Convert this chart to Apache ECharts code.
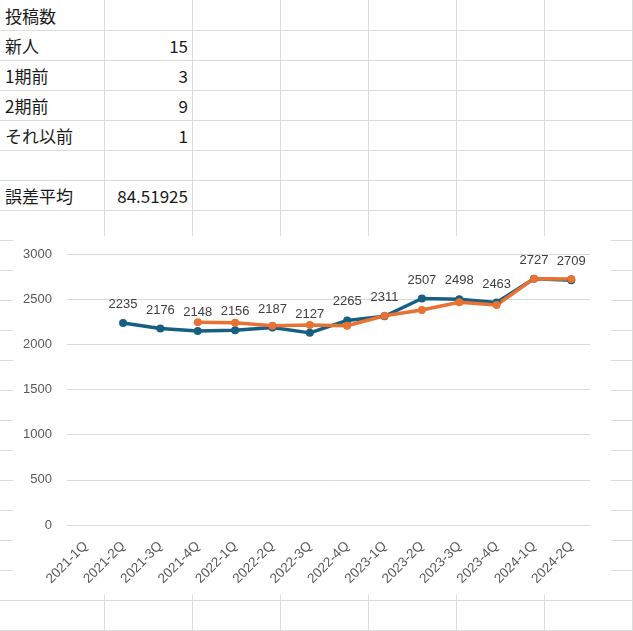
<!DOCTYPE html>
<html>
<head>
<meta charset="utf-8">
<script src="https://cdn.jsdelivr.net/npm/echarts@6/dist/echarts.min.js"></script>
<style>
html,body{margin:0;padding:0;background:#fff;width:633px;height:631px;overflow:hidden;position:relative;}
.hl{position:absolute;left:0;width:633px;height:1px;background:#DCDCDC;}
.vl{position:absolute;top:0;height:631px;width:1px;background:#DCDCDC;}
.cell{position:absolute;height:30px;line-height:30px;font-family:"Noto Sans CJK JP","Noto Sans",sans-serif;font-size:17px;color:#1a1a1a;white-space:nowrap;}
#chart{position:absolute;left:13px;top:236px;width:598px;height:359px;background:#fff;}
</style>
</head>
<body>
<div id="chart"></div>
<script>
// spreadsheet contents
const tableLabels = ["投稿数", "新人", "1期前", "2期前", "それ以前", "", "誤差平均"];
const tableValues = ["", "15", "3", "9", "1", "", "84.51925"];

// chart data
const categories = ["2021-1Q","2021-2Q","2021-3Q","2021-4Q","2022-1Q","2022-2Q","2022-3Q","2022-4Q","2023-1Q","2023-2Q","2023-3Q","2023-4Q","2024-1Q","2024-2Q"];
const actualValues = [null,2235,2176,2148,2156,2187,2127,2265,2311,2507,2498,2463,2727,2709];
const predictedValues = [null,null,null,2244,2239,2206,2215,2206,2317,2380,2466,2436,2727,2722];
const yTicks = {min:0, max:3000, interval:500};

// draw sheet grid
const body = document.body;
const colEdges = [104,192,280,368,456,544,632];
for (let r = 1; r <= 21; r++) {
  const d = document.createElement('div'); d.className='hl'; d.style.top=(r*30)+'px'; body.insertBefore(d, body.firstChild);
}
colEdges.forEach(x => { const d=document.createElement('div'); d.className='vl'; d.style.left=x+'px'; body.insertBefore(d, body.firstChild); });
tableLabels.forEach((t,i) => {
  if (t) { const d=document.createElement('div'); d.className='cell'; d.style.left='5px'; d.style.top=(i*30+1)+'px'; d.textContent=t; body.appendChild(d); }
  const v = tableValues[i];
  if (v) { const d=document.createElement('div'); d.className='cell'; d.style.right=(633-188)+'px'; d.style.top=(i*30+1)+'px'; d.style.textAlign='right'; d.textContent=v; body.appendChild(d); }
});

const chart = echarts.init(document.getElementById('chart'));
chart.setOption({
  animation:false,
  backgroundColor:'#fff',
  grid:{left:54, right:21, top:18, bottom:70, containLabel:false},
  xAxis:{
    type:'category', data:categories, boundaryGap:true,
    axisLine:{lineStyle:{color:'#D9D9D9'}}, axisTick:{show:false},
    axisLabel:{rotate:45, margin:19, color:'#595959', fontSize:13.5, fontFamily:'"Liberation Sans", sans-serif', interval:0}
  },
  yAxis:{
    type:'value', min:yTicks.min, max:yTicks.max, interval:yTicks.interval,
    axisLine:{show:false}, axisTick:{show:false},
    splitLine:{lineStyle:{color:'#D9D9D9'}},
    axisLabel:{margin:15, color:'#595959', fontSize:13, fontFamily:'"Liberation Sans", sans-serif', formatter:v => String(v)}
  },
  series:[
    {type:'line', data:actualValues, symbol:'circle', symbolSize:8, connectNulls:false,
     itemStyle:{color:'#156082'}, lineStyle:{color:'#156082', width:3.5, join:'round'},
     label:{show:true, position:'top', distance:8, color:'#404040', fontSize:13, fontFamily:'"Liberation Sans", sans-serif'}},
    {type:'line', data:predictedValues, symbol:'circle', symbolSize:8,
     itemStyle:{color:'#E97132'}, lineStyle:{color:'#E97132', width:3.5, join:'round'}}
  ]
});
</script>
</body>
</html>
